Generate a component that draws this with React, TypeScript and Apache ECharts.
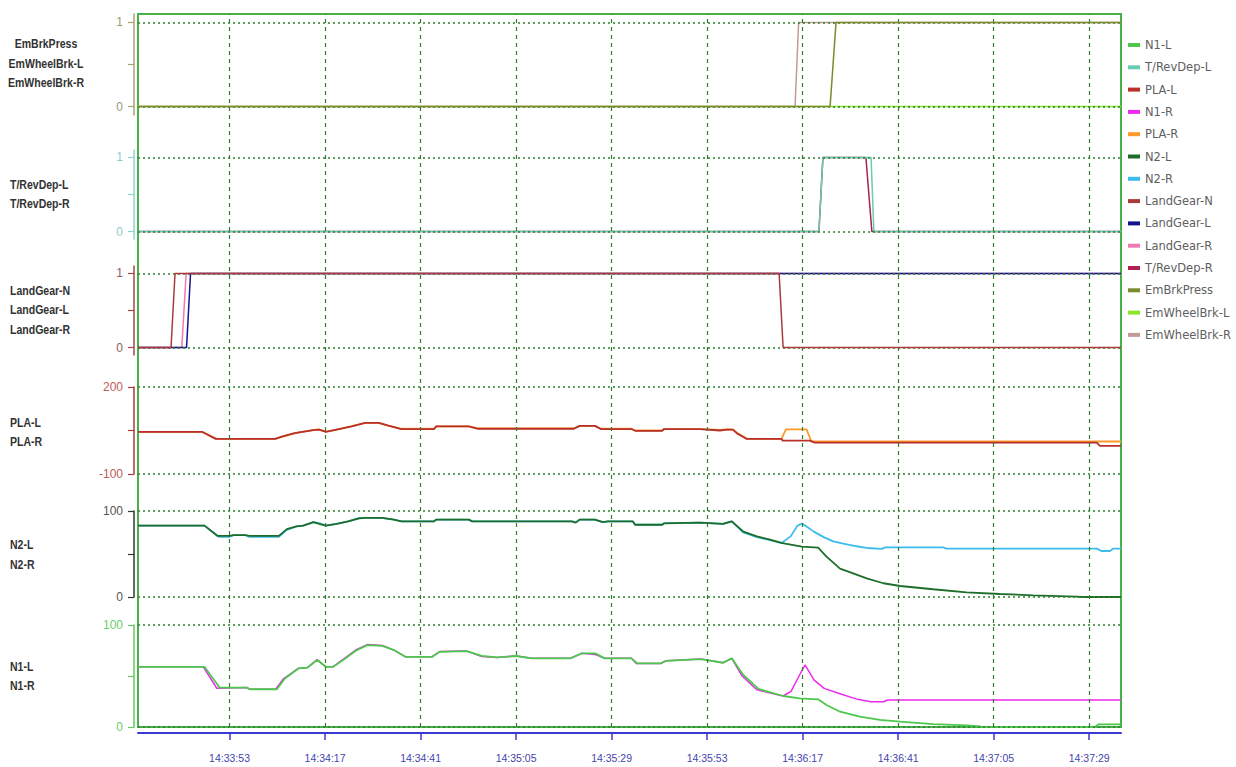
import React, { useEffect, useRef } from 'react';
import * as echarts from 'echarts';

// time axis: seconds since 14:33:05
const BASE_SEC = 14 * 3600 + 33 * 60 + 5;
const X_MIN = 25;
const X_MAX = 272;
const X_TICKS = [48, 72, 96, 120, 144, 168, 192, 216, 240, 264];

// Panel 1
const emBrkPress = [[25, 0], [198.9, 0], [200.4, 1], [272, 1]];
const emWheelBrkL = [[25, 0], [272, 0]];
const emWheelBrkR = [[25, 0], [190.1, 0], [191, 1], [272, 1]];
// Panel 2
const tRevDepL = [[25, 0], [196.1, 0], [197.1, 1], [209.2, 1], [209.9, 0], [272, 0]];
const tRevDepR = [[25, 0], [196.1, 0], [197.1, 1], [207.9, 1], [209.4, 0], [272, 0]];
// Panel 3
const landGearN = [[25, 0], [33.3, 0], [34.3, 1], [186.1, 1], [187.1, 0], [272, 0]];
const landGearL = [[25, 0], [37.2, 0], [38.2, 1], [272, 1]];
const landGearR = [[25, 0], [36, 0], [37.1, 1], [272, 1]];
// Panel 4
const plaL = [
  [25, 45], [41.2, 45], [44.5, 21], [59.5, 21], [60.9, 28], [64.3, 41], [69.1, 51], [70.5, 53],
  [72.2, 45], [74.9, 53], [78.7, 64], [82.1, 76], [85.5, 76], [87.9, 67], [91.2, 55], [99.4, 55],
  [99.9, 64], [108.1, 64], [110.5, 56], [134.5, 56], [136, 66], [139.8, 66], [141.3, 55], [149, 55],
  [149.9, 49], [156.7, 49], [157.2, 55], [166.2, 55], [171.2, 50], [173, 53], [174.5, 53],
  [175.5, 40], [176.8, 30], [177.9, 21], [186.7, 21], [187, 15], [193.8, 15], [195.1, 8],
  [265.9, 8], [266.7, -3], [272, -3],
];
const plaR = [
  [25, 45], [41.2, 45], [44.8, 21], [59.5, 21], [61.2, 28], [64.6, 41], [69.1, 52], [70.5, 54],
  [72.2, 46], [74.9, 53], [78.7, 65], [82.1, 76], [85.5, 76], [87.9, 67], [91.2, 56], [99.4, 56],
  [99.9, 64], [108.1, 64], [110.5, 57], [134.5, 57], [136, 66], [139.8, 66], [141.3, 56], [149, 56],
  [149.9, 50], [156.7, 50], [157.2, 55], [166.2, 55], [171.2, 52], [173, 54], [174.5, 53],
  [175.8, 40], [177, 30], [178.2, 21], [186.7, 21], [187.8, 54], [193, 54], [194.2, 12],
  [272, 12],
];
// Panel 5
const n2L = [
  [25, 83], [41.7, 83], [45, 71], [48, 71], [49, 72], [52, 72], [53, 71], [60.4, 71], [62.4, 79],
  [64.8, 82], [66.5, 83], [69.1, 87], [70.5, 85], [72.2, 83], [74.9, 85], [77.8, 88], [80.6, 91.5],
  [82, 92], [86.3, 92], [89.3, 90], [91.2, 88], [99.4, 88], [99.9, 90], [108.1, 90], [109, 88],
  [134, 88], [135, 86.5], [136, 90], [139.8, 90], [141.8, 87], [143.1, 88], [149.3, 88], [149.9, 84],
  [156.7, 84], [157.2, 85.5], [166.2, 86.5], [172, 85], [174.2, 88], [177.1, 76], [180.5, 70.5],
  [183.8, 66.6], [186.7, 63], [187.6, 62], [191.8, 58.5], [195.9, 57.4], [198, 47], [201.4, 33],
  [204.7, 27.5], [208.1, 21.7], [212.3, 16], [216.5, 12.8], [224.8, 9], [233.2, 5.4], [241.6, 3.5],
  [249.9, 2], [260.8, 0.4], [262.5, 0], [272, 0],
];
const n2R = [
  [25, 83], [41.7, 83], [45.3, 70], [48, 70], [49, 72], [52, 72], [53, 70], [60.4, 70], [62.4, 78],
  [64.8, 82], [66.5, 83], [69.1, 87], [70.5, 86], [72.2, 83], [74.9, 85], [77.8, 88], [80.6, 92],
  [82, 92], [86.3, 92], [89.3, 90], [91.2, 88], [99.4, 88], [99.9, 90], [108.1, 90], [109, 88],
  [134, 88], [135, 87], [136, 90], [139.8, 90], [141.8, 87], [143.1, 88], [149.3, 88], [149.9, 84],
  [156.7, 84], [157.2, 86], [166.2, 86.5], [172, 85], [174.2, 88], [177.1, 75], [180.5, 69.5],
  [183.8, 66], [186.7, 62.7], [189, 70.5], [190.7, 83], [191.8, 85.3], [193, 82], [194.8, 76],
  [197.3, 69.6], [199.7, 64.7], [202.2, 62], [205.6, 59], [208.1, 57], [211.9, 56], [212.7, 57.7],
  [227.3, 57.7], [228.2, 56.2], [265.9, 56.2], [267.1, 53.5], [269.2, 53.5], [270, 56.2], [272, 56.2],
];
// Panel 6
const n1L = [
  [25, 59], [41.7, 59], [45.5, 38.7], [52.3, 38.7], [53.1, 37], [59.9, 37], [61.9, 47.5],
  [65.3, 57.4], [67.6, 58.3], [70, 65.6], [72.2, 59], [74, 59], [76.8, 66.3], [79.7, 74.7],
  [82.6, 80.3], [86.4, 79.6], [89.3, 75.4], [92.2, 68.8], [98.9, 68.8], [100.8, 73.7], [107.6, 74.4],
  [111.4, 69.8], [115.2, 68.2], [120, 69.6], [124, 67.3], [133.6, 67.3], [136.5, 72.2], [139.9, 72.2],
  [142.3, 67.3], [149, 67.3], [150.5, 62.3], [156.3, 62.3], [157.7, 64.9], [166.4, 66.6], [172, 63],
  [174.2, 67.3], [177.1, 51], [180.9, 37.3], [187.1, 30.4], [191.3, 28.1], [195.9, 27.1], [198, 21.6],
  [201.4, 15], [206.4, 10.1], [211.4, 6.9], [216.5, 5.2], [224.8, 2.9], [233.2, 1.6], [236.6, 0.5],
  [237, 0], [265.5, 0], [266.3, 2.6], [272, 2.6],
];
const n1R = [
  [25, 59], [41.4, 59], [44.8, 38], [52.3, 38.7], [53.1, 37], [59.6, 37], [61.6, 47.5],
  [65.3, 57.4], [67.6, 58.3], [70, 66], [72.2, 59], [74, 59], [76.8, 67], [79.7, 75.5],
  [82.6, 80.8], [86.4, 80], [89.3, 75.4], [92.2, 68.8], [98.9, 68.8], [100.8, 74], [107.6, 74.4],
  [111.4, 69], [115.2, 68.2], [120, 69.6], [124, 67.3], [133.6, 67.3], [136.5, 72.2], [139.9, 71],
  [142.3, 67.3], [149, 67.3], [150.2, 62.3], [156.3, 62.3], [157.7, 64.9], [166.4, 66.6], [172, 63],
  [174.2, 67.3], [176.8, 50], [180.5, 36.5], [187.1, 30.4], [189.1, 35], [191.1, 50], [192.6, 60.8],
  [194.9, 46], [197.4, 37.9], [201.6, 32.3], [205.8, 27.1], [209.1, 24.8], [212.4, 24.8], [213.3, 26.5],
  [272, 26.5],
];

const LEGEND_ORDER = [
  'N1-L', 'T/RevDep-L', 'PLA-L', 'N1-R', 'PLA-R', 'N2-L', 'N2-R', 'LandGear-N', 'LandGear-L',
  'LandGear-R', 'T/RevDep-R', 'EmBrkPress', 'EmWheelBrk-L', 'EmWheelBrk-R',
];

const PANEL_LABELS = [
  ['EmBrkPress', 'EmWheelBrk-L', 'EmWheelBrk-R'],
  ['T/RevDep-L', 'T/RevDep-R'],
  ['LandGear-N', 'LandGear-L', 'LandGear-R'],
  ['PLA-L', 'PLA-R'],
  ['N2-L', 'N2-R'],
  ['N1-L', 'N1-R'],
];

const SANS = "'Liberation Sans', Arial, sans-serif";
const GRID_LEFT = 138;
const GRID_W = 983;

const fmtTime = (v: number) => {
  const s = Math.round(BASE_SEC + v);
  const hh = Math.floor(s / 3600);
  const mm = Math.floor((s % 3600) / 60);
  const ss = s % 60;
  const p = (n: number) => (n < 10 ? '0' + n : '' + n);
  return `${p(hh)}:${p(mm)}:${p(ss)}`;
};

export default function App() {
  const ref = useRef<HTMLDivElement>(null);
  useEffect(() => {
    if (!ref.current) return;
    const chart = echarts.init(ref.current, undefined, { renderer: 'svg' });

    const panels = [
      { top: 14, height: 101, min: -0.1, max: 1.1, ticks: [0, 0.5, 1], labels: [0, 1], color: '#a8a274', lc: '#9a9a78', grid: [0, 1] },
      { top: 150, height: 89, min: -0.1, max: 1.1, ticks: [0, 0.5, 1], labels: [0, 1], color: '#8fd3d3', lc: '#8fcccc', grid: [0, 1] },
      { top: 266, height: 89, min: -0.1, max: 1.1, ticks: [0, 0.5, 1], labels: [0, 1], color: '#a04848', lc: '#8a6060', grid: [0, 1] },
      { top: 387, height: 87, min: -100, max: 200, ticks: [-100, 50, 200], labels: [-100, 200], color: '#a83a3a', lc: '#c05a5a', grid: [-100, 200] },
      { top: 511, height: 86, min: 0, max: 100, ticks: [0, 50, 100], labels: [0, 100], color: '#2c3a2c', lc: '#555555', grid: [0, 100] },
      { top: 625, height: 102, min: 0, max: 100, ticks: [0, 50, 100], labels: [0, 100], color: '#66c466', lc: '#6ccc6c', grid: [0, 100] },
    ];

    const grids: any[] = [
      { left: GRID_LEFT, width: GRID_W, top: 14, height: 713, show: true, borderColor: '#48b048', borderWidth: 2, backgroundColor: 'transparent' },
      ...panels.map((p) => ({ left: GRID_LEFT, width: GRID_W, top: p.top, height: p.height, show: false })),
    ];

    const xAxes: any[] = [
      {
        type: 'value', gridIndex: 0, min: X_MIN, max: X_MAX, position: 'bottom', offset: 6,
        axisLine: { show: true, onZero: false, lineStyle: { color: '#3a3ad0', width: 2 } },
        axisTick: { show: true, length: 7, customValues: X_TICKS, lineStyle: { color: '#3a3ad0', width: 1.5 } },
        axisLabel: { show: true, customValues: X_TICKS, formatter: (v: number) => fmtTime(v), color: '#4444aa', fontSize: 10.5, fontFamily: SANS, margin: 19 },
        splitLine: { show: false },
      },
      ...panels.map((_, i) => ({ type: 'value', gridIndex: i + 1, min: X_MIN, max: X_MAX, show: false, splitLine: { show: false } })),
    ];

    const yAxes: any[] = [
      { type: 'value', gridIndex: 0, min: 0, max: 1, show: false, splitLine: { show: false } },
      ...panels.map((p, i) => ({
        type: 'value', gridIndex: i + 1, min: p.min, max: p.max, offset: 4,
        axisLine: { show: true, onZero: false, lineStyle: { color: p.color, width: 1.5 } },
        axisTick: { show: true, length: 6, customValues: p.ticks, lineStyle: { color: p.color, width: 1.2 } },
        axisLabel: { show: true, customValues: p.labels, color: p.lc, fontSize: 12, fontFamily: SANS, margin: 11 },
        splitLine: { show: false },
      })),
    ];

    const line = (name: string, data: number[][], color: string, panel: number, z: number, width = 1.5) => ({
      name, type: 'line', data, xAxisIndex: panel + 1, yAxisIndex: panel + 1,
      symbol: 'none', showSymbol: false, z, silent: true,
      lineStyle: { color, width }, itemStyle: { color }, emphasis: { disabled: true },
    });

    const gridSeries: any[] = [
      {
        name: '_vgrid', type: 'line', data: [], xAxisIndex: 0, yAxisIndex: 0, z: 1, silent: true,
        markLine: {
          symbol: 'none', silent: true, label: { show: false }, animation: false,
          lineStyle: { type: [4, 4], color: '#2f7f2f', width: 1.2 },
          data: X_TICKS.map((v) => ({ xAxis: v })),
        },
      },
      ...panels.map((p, i) => ({
        name: '_hgrid' + i, type: 'line', data: [], xAxisIndex: i + 1, yAxisIndex: i + 1, z: 1, silent: true,
        markLine: {
          symbol: 'none', silent: true, label: { show: false }, animation: false,
          lineStyle: { type: [2, 3], color: '#2f7f2f', width: 1.5 },
          data: p.grid.map((v) => ({ yAxis: v })),
        },
      })),
    ];

    const dataSeries = [
      line('EmWheelBrk-L', emWheelBrkL, '#8ae62a', 0, 3),
      line('EmWheelBrk-R', emWheelBrkR, '#c49a96', 0, 4),
      line('EmBrkPress', emBrkPress, '#7b8a2e', 0, 5),
      line('T/RevDep-R', tRevDepR, '#b02050', 1, 3),
      line('T/RevDep-L', tRevDepL, '#66ccb4', 1, 4),
      line('LandGear-R', landGearR, '#f07ab4', 2, 3),
      line('LandGear-L', landGearL, '#14148c', 2, 4),
      line('LandGear-N', landGearN, '#a83a3a', 2, 5),
      line('PLA-R', plaR, '#ff9a2a', 3, 3, 1.8),
      line('PLA-L', plaL, '#b8302a', 3, 4, 1.8),
      line('N2-R', n2R, '#3cbcec', 4, 3, 1.8),
      line('N2-L', n2L, '#1e6e2a', 4, 4, 1.8),
      line('N1-R', n1R, '#ee2aee', 5, 3, 1.5),
      line('N1-L', n1L, '#4cc84c', 5, 4, 1.8),
    ];

    const graphics: any[] = [];
    const labelTops = [44, 184.5, 290.5, 422.5, 545, 666.5];
    PANEL_LABELS.forEach((names, pi) => {
      names.forEach((n, k) => {
        graphics.push({
          type: 'text', silent: true,
          x: pi === 0 ? 46 : 10, y: labelTops[pi] + k * 19.5,
          scaleX: 0.78,
          style: {
            text: n, fill: '#333333', fontFamily: SANS, fontWeight: 'bold', fontSize: 13.5,
            textAlign: pi === 0 ? 'center' : 'left', textVerticalAlign: 'middle',
          },
        });
      });
    });

    chart.setOption({
      animation: false,
      backgroundColor: '#ffffff',
      grid: grids,
      xAxis: xAxes,
      yAxis: yAxes,
      legend: {
        orient: 'vertical', left: 1123, top: 34, icon: 'rect', itemWidth: 12, itemHeight: 4, itemGap: 10.3,
        selectedMode: false,
        textStyle: { fontSize: 11.5, color: '#606060', fontFamily: "'DejaVu Sans', sans-serif" },
        data: LEGEND_ORDER,
      },
      graphic: graphics,
      series: [...gridSeries, ...dataSeries],
    });

    return () => chart.dispose();
  }, []);

  return <div ref={ref} style={{ position: 'fixed', left: 0, top: 0, width: 1236, height: 767 }} />;
}
